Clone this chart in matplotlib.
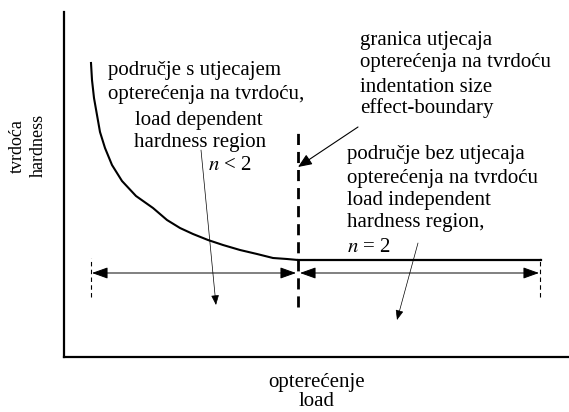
import matplotlib.pyplot as plt

plt.rcParams["mathtext.fontset"] = "stix"

# krivulja tvrdoće (opterećenje, tvrdoća) - shematski, procijenjeno sa slike
load = [27, 28, 30, 33, 36, 41, 48, 58, 72, 89, 103, 116, 129, 144, 159, 176, 193, 209, 223, 234]
hard = [294, 277, 259, 242, 225, 209, 192, 176, 161, 149, 137, 129, 123, 117, 112, 107, 103, 99, 98, 97]
flat_load = [234, 477]
flat_hard = [97, 97]

boundary_x = 234
region_left = [28, 232]
region_right = [236, 475]

W, H = 569, 412
fig = plt.figure(figsize=(W / 100, H / 100), dpi=100)
ax = fig.add_axes([64 / W, (H - 357) / H, 1 - 64 / W, (357 - 12) / H])
ax.set_xlim(0, 505)
ax.set_ylim(0, 345)
for s in ["top", "right"]:
    ax.spines[s].set_visible(False)
for s in ["left", "bottom"]:
    ax.spines[s].set_linewidth(1.6)
ax.set_xticks([])
ax.set_yticks([])

FONT = "Liberation Serif"
FS = 15

ax.plot(load, hard, color="k", lw=1.5, solid_joinstyle="round")
ax.plot(flat_load, flat_hard, color="k", lw=1.6)

# granica
ax.plot([boundary_x, boundary_x], [50, 224], color="k", lw=2, dashes=(4, 2.5))

# kraj područja
for x in [region_left[0] - 1, region_right[1] + 1]:
    ax.plot([x, x], [60, 99], color="k", lw=0.8, dashes=(4, 3))

arrow_dim = dict(arrowstyle="<|-|>,head_length=0.7,head_width=0.25",
                 color="k", lw=0.7, shrinkA=0, shrinkB=0, mutation_scale=14)
ax.annotate("", xy=(region_left[0], 84), xytext=(region_left[1], 84), arrowprops=arrow_dim)
ax.annotate("", xy=(region_right[0], 84), xytext=(region_right[1], 84), arrowprops=arrow_dim)

# strelice od teksta
ax.annotate("", xy=(boundary_x, 190), xytext=(294, 230),
            arrowprops=dict(arrowstyle="-|>,head_length=0.6,head_width=0.25",
                            color="k", lw=0.8, shrinkA=0, shrinkB=0, mutation_scale=14))
thin = dict(arrowstyle="-|>,head_length=0.5,head_width=0.2",
            color="k", lw=0.5, shrinkA=0, shrinkB=0, mutation_scale=12)
ax.annotate("", xy=(152, 52), xytext=(137, 207), arrowprops=thin)
ax.annotate("", xy=(333, 37), xytext=(354, 114), arrowprops=thin)

def txt(x, y, s, **kw):
    ax.text(x, y, s, fontsize=FS, family=FONT, va="center", ha="left", **kw)

txt(44, 287, "područje s utjecajem")
txt(44, 262, "opterećenja na tvrdoću,")
txt(71, 237, "load dependent")
txt(70, 214, "hardness region")
txt(144, 192, r"$n$ < 2")

txt(296, 317, "granica utjecaja")
txt(296, 294, "opterećenja na tvrdoću")
txt(296, 270, "indentation size")
txt(296, 249, "effect-boundary")

txt(283, 202, "područje bez utjecaja")
txt(283, 179, "opterećenja na tvrdoću")
txt(283, 157, "load independent")
txt(283, 134, "hardness region,")
txt(283, 109, r"$n$ = 2")

fig.text(317 / W, 1 - 382 / H, "opterećenje", fontsize=FS, family=FONT, ha="center", va="center")
fig.text(317 / W, 1 - 402 / H, "load", fontsize=FS, family=FONT, ha="center", va="center")
fig.text(17 / W, 1 - 146 / H, "tvrdoća", fontsize=13, family=FONT, ha="center", va="center", rotation=90)
fig.text(38 / W, 1 - 145 / H, "hardness", fontsize=13, family=FONT, ha="center", va="center", rotation=90)

fig.savefig("out.png", dpi=100)
